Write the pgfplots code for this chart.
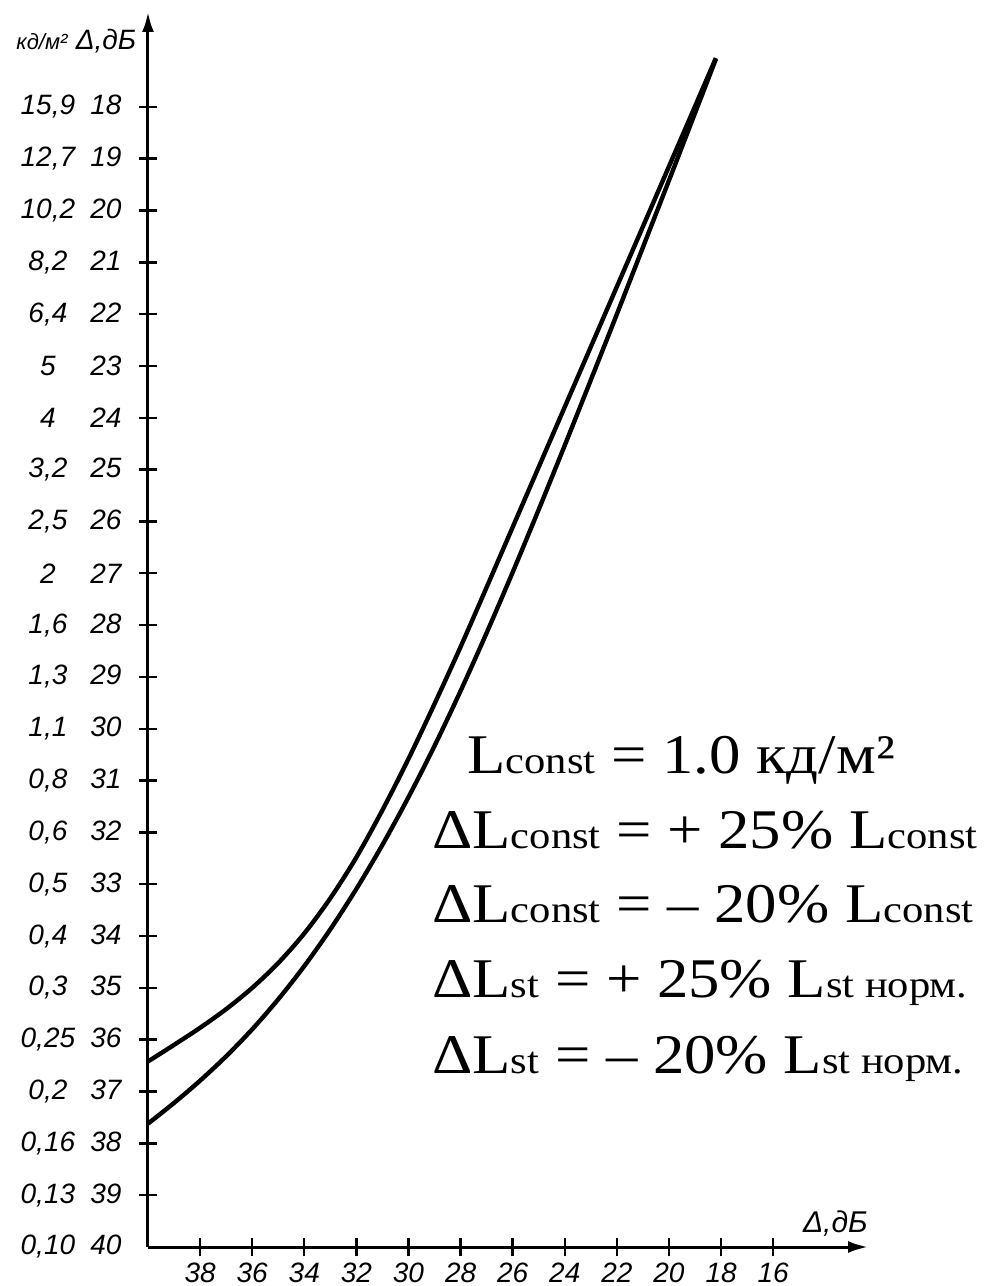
\documentclass[border=0pt]{standalone}
\usepackage{fontspec}
\setmainfont{Liberation Serif}
\newfontfamily\hand{Liberation Sans}
\usepackage{graphicx}
\usepackage{pgfplots}
\usepackage{pgfplotstable}
\pgfplotsset{compat=1.18}
\usetikzlibrary{arrows.meta}

% two label columns: luminance, kd/m^2 and contrast, dB
\newcommand{\yl}[2]{\makebox[32pt][c]{#1}\makebox[26pt][c]{#2}}
\newcommand{\sub}[1]{{\fontsize{19}{19}\selectfont #1}}
\newcommand{\ann}[1]{\scalebox{1.12}[1]{\fontsize{28}{28}\selectfont #1}}

% upper curve (Delta, dB vs Delta, dB)
\pgfplotstableread{
x y
18.2 17.06
19 17.99
20 19.15
21 20.31
22 21.47
23 22.63
24 23.79
25 24.95
26 26.11
27 27.27
28 28.42
29 29.52
30 30.58
31 31.57
32 32.48
33 33.27
34 33.95
35 34.52
36 35.00
37 35.41
38 35.77
39 36.10
40 36.42
}\uppercurve

% lower curve
\pgfplotstableread{
x y
18.2 17.08
19 18.12
20 19.42
21 20.71
22 22.00
23 23.27
24 24.53
25 25.77
26 26.98
27 28.15
28 29.27
29 30.33
30 31.32
31 32.24
32 33.09
33 33.87
34 34.58
35 35.22
36 35.80
37 36.32
38 36.79
39 37.22
40 37.62
}\lowercurve

\begin{document}
\begin{tikzpicture}
\begin{axis}[
  scale only axis,
  width=360pt, height=617.5pt,
  xmin=-40, xmax=-12.36,
  ymin=-40, ymax=-16.17,
  axis lines=left,
  axis line style={line width=1.5pt, -{Latex[length=10pt,width=6pt]}},
  xtick={-38,-36,...,-16},
  xticklabels={38,36,34,32,30,28,26,24,22,20,18,16},
  ytick={-39,...,-18},
  yticklabels={\yl{0,13}{39},\yl{0,16}{38},\yl{0,2}{37},\yl{0,25}{36},
    \yl{0,3}{35},\yl{0,4}{34},\yl{0,5}{33},\yl{0,6}{32},\yl{0,8}{31},
    \yl{1,1}{30},\yl{1,3}{29},\yl{1,6}{28},\yl{2}{27},\yl{2,5}{26},
    \yl{3,2}{25},\yl{4}{24},\yl{5}{23},\yl{6,4}{22},\yl{8,2}{21},
    \yl{10,2}{20},\yl{12,7}{19},\yl{15,9}{18}},
  extra y ticks={-40,-16.74},
  extra y tick labels={\yl{0,10}{40},{\makebox[32pt][c]{\fontsize{11}{11}\selectfont кд/м²}\hspace{3pt}\makebox[26pt][c]{\fontsize{14}{14}\selectfont Δ,дБ}}},
  extra y tick style={major tick style={draw=none}},
  tick align=center,
  major tick length=9pt,
  tick style={line width=1.2pt, black},
  ticklabel style={font=\hand\itshape\fontsize{14}{14}\selectfont},
  clip=false,
]
\coordinate (O) at (axis cs:-40,-40);

\addplot[black, line width=2.2pt, smooth] table[x expr=-\thisrow{x}, y expr=-\thisrow{y}] {\uppercurve};
\addplot[black, line width=2.2pt, smooth] table[x expr=-\thisrow{x}, y expr=-\thisrow{y}] {\lowercurve};

\node[anchor=south east, inner sep=0pt, yshift=5pt, font=\hand\itshape\fontsize{15}{15}\selectfont]
  at (axis cs:-12.36,-40) {Δ,дБ};

\node[anchor=base west, inner sep=0pt] at (axis cs:-27.75,-30.86) {\ann{L\sub{const} = 1.0 кд/м²}};
\node[anchor=base west, inner sep=0pt] at (axis cs:-29.10,-32.31) {\ann{ΔL\sub{const} = + 25\% L\sub{const}}};
\node[anchor=base west, inner sep=0pt] at (axis cs:-29.10,-33.74) {\ann{ΔL\sub{const} = – 20\% L\sub{const}}};
\node[anchor=base west, inner sep=0pt] at (axis cs:-29.10,-35.19) {\ann{ΔL\sub{st} = + 25\% L\sub{st норм.}}};
\node[anchor=base west, inner sep=0pt] at (axis cs:-29.10,-36.66) {\ann{ΔL\sub{st} = – 20\% L\sub{st норм.}}};
\end{axis}
\pgfresetboundingbox
\path (O) ++(-74pt,-19.5pt) rectangle ++(493.5pt,643pt);
\end{tikzpicture}
\end{document}
